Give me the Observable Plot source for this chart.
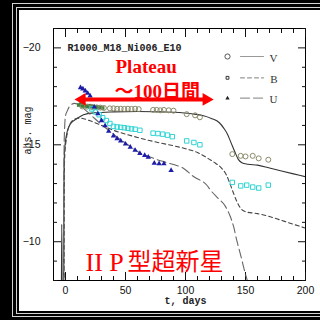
<!DOCTYPE html>
<html>
<head>
<meta charset="utf-8">
<script src="https://cdn.jsdelivr.net/npm/d3@7"></script>
<script src="https://cdn.jsdelivr.net/npm/@observablehq/plot@0.6"></script>
<style>
  html, body { margin: 0; padding: 0; background: #000; }
  #wrap { position: relative; width: 320px; height: 320px; overflow: hidden; background: #000; }
  .ln { position: absolute; border: 1px solid #d4d4d4; }
  #panel { position: absolute; left: 19px; top: 10px; right: 0; bottom: 9px; background: #fff; }
  #chart { position: absolute; left: 0; top: 0; }
</style>
</head>
<body>
<div id="wrap">
  <div class="ln" style="left:12px;top:3px;right:-10px;bottom:3px"></div>
  <div class="ln" style="left:16px;top:7px;right:-10px;bottom:6px"></div>
  <div id="panel"></div>
  <div id="chart"></div>
</div>
<script>
// Model light curves (days after explosion, absolute magnitude)
const vModelDays = [-3.4, -3.1, -2.8, -1.5, -1.3, -1.1, -0.5, 0.5, 1.5, 4, 10, 15, 24, 40, 60, 80, 95, 105, 115, 122, 128, 132, 135, 138, 141, 144, 147, 152, 160, 170, 180, 190, 200];
const vModelMags = [-7.8, -10.9, -7.8, -7.8, -12.5, -14.2, -14.9, -15.4, -15.7, -16.07, -16.37, -16.55, -16.65, -16.7, -16.72, -16.7, -16.67, -16.6, -16.5, -16.35, -16.15, -15.85, -15.55, -15.1, -14.65, -14.25, -14.08, -14.0, -13.95, -13.8, -13.65, -13.5, -13.35];

const bModelDays = [-1.2, -1.0, -0.5, 0.5, 1.5, 4, 8, 12, 16, 20, 30, 40, 50, 60, 70, 80, 90, 100, 110, 120, 125, 130, 134, 137, 140, 143, 146, 150, 160, 170, 180, 190, 200];
const bModelMags = [-7.8, -13.5, -14.6, -15.2, -15.6, -16.1, -16.33, -16.38, -16.33, -16.25, -16.0, -15.75, -15.55, -15.38, -15.22, -15.08, -14.95, -14.8, -14.6, -14.25, -14.05, -13.8, -13.45, -13.0, -12.5, -12.05, -11.72, -11.55, -11.45, -11.3, -11.1, -10.9, -10.7];

const uModelDays = [-1.6, -1.4, -1.0, 0, 1.5, 3, 5, 7.5, 10, 15, 20, 25, 30, 35, 45, 55, 62, 70, 80, 90, 97, 107, 118, 121, 127, 133, 137, 140, 143, 146, 149, 152.5];
const uModelMags = [-7.8, -13.0, -15.4, -16.5, -16.75, -16.95, -17.08, -17.14, -17.1, -16.88, -16.6, -16.32, -16.05, -15.8, -15.3, -14.88, -14.58, -14.38, -14.16, -13.98, -13.83, -13.35, -12.9, -12.65, -12.25, -11.85, -11.35, -10.8, -10.0, -9.3, -8.55, -7.8];

// Observed photometry
const vDays = [14, 18, 22, 26, 29, 32, 37, 40, 43, 46, 49, 52, 55, 58, 61, 73, 76, 79, 82, 86, 90, 101, 108, 112, 139, 146, 150, 156, 161, 169];
const vMags = [-16.98, -16.97, -16.95, -16.93, -16.92, -16.9, -16.88, -16.88, -16.86, -16.86, -16.85, -16.86, -16.85, -16.86, -16.84, -16.8, -16.8, -16.78, -16.8, -16.78, -16.76, -16.58, -16.52, -16.42, -14.52, -14.43, -14.4, -14.43, -14.3, -14.23];

const vEarlyDays = [11, 12.5, 14, 15.5, 17, 18.5, 20, 21.5, 23, 25, 27, 29, 31];
const vEarlyMags = [-17.05, -17.1, -17.0, -17.05, -17.0, -16.98, -17.02, -16.97, -16.98, -16.95, -16.95, -16.92, -16.9];

const bDays = [22, 25, 28, 31, 34, 37, 40, 43, 46, 49, 52, 55, 58, 62, 73, 77, 81, 85, 89, 101, 107, 112, 139, 146, 151, 156, 161, 169];
const bMags = [-16.85, -16.7, -16.55, -16.4, -16.25, -16.1, -15.95, -15.92, -15.9, -15.88, -15.85, -15.82, -15.8, -15.75, -15.6, -15.58, -15.55, -15.5, -15.42, -15.2, -15.12, -15.0, -13.06, -12.88, -12.92, -12.82, -12.77, -12.92];

const uDays = [12.5, 14.5, 16.5, 18.5, 20.5, 24, 27, 30, 33, 36, 40, 43, 46, 50, 54, 58, 62, 66, 69, 74, 78, 82, 88];
const uMags = [-17.95, -17.88, -17.78, -17.66, -17.52, -16.95, -16.6, -16.25, -15.98, -15.7, -15.46, -15.32, -15.2, -15.04, -14.88, -14.72, -14.56, -14.45, -14.36, -14.05, -14.03, -14.02, -13.68];

// Axis ticks
const xMajor = [0, 50, 100, 150, 200];
const xMinor = d3.range(0, 201, 10).filter(d => d % 50 !== 0);
const yMajor = [-20, -15, -10];
const yMinor = d3.range(-21, -7).filter(d => d % 5 !== 0);

// Plateau annotation (days, magnitude level of the arrow)
const plateauSpan = [7.5, 123.5];
const arrowMag = -17.34;

const red = "#f00";
const fmt = d => (d < 0 ? "\u2212" : "") + Math.abs(d);
const seg = {draw(ctx, l) { ctx.moveTo(0, 0); ctx.lineTo(0, -l); }};

const legendRows = [
  {label: "V", symbol: "circle", dash: null, dy: 28, fill: "none", stroke: "#555", r: 2.6},
  {label: "B", symbol: "square", dash: "4,3", dy: 49.3, fill: "none", stroke: "#333", r: 1.6},
  {label: "U", symbol: "triangle", dash: "9,4", dy: 69.7, fill: "#222", stroke: "none", r: 1.6}
];

const legendMarks = legendRows.flatMap(row => [
  Plot.dot([row.label], {frameAnchor: "top-right", dx: -78, dy: row.dy, symbol: row.symbol, r: row.r, fill: row.fill, stroke: row.stroke, strokeWidth: 1}),
  Plot.vector([row.label], {frameAnchor: "top-right", dx: -65, dy: row.dy, length: 23, rotate: 90, anchor: "start", shape: seg, stroke: "#999", strokeWidth: 1.2, strokeDasharray: row.dash}),
  Plot.text([row.label], {frameAnchor: "top-right", dx: -28, dy: row.dy - 2.7, fontFamily: "Liberation Serif", fontSize: 11, fill: "#333"})
]);

const chart = Plot.plot({
  width: 320,
  height: 320,
  marginLeft: 53,
  marginRight: 15,
  marginTop: 28,
  marginBottom: 40,
  style: {background: "transparent", fontFamily: "Liberation Sans", fontSize: "10.5px", color: "#111", overflow: "visible"},
  x: {domain: [-10, 200], label: null},
  y: {domain: [-8, -21], label: null},
  marks: [
    Plot.frame({stroke: "#000", strokeWidth: 1}),
    // inward ticks on all four sides
    Plot.axisY(yMinor, {anchor: "left", tickSize: -4, fill: "none", label: null}),
    Plot.axisY(yMajor, {anchor: "left", tickSize: -8, fill: "none", label: null}),
    Plot.axisY(yMinor, {anchor: "right", tickSize: -4, fill: "none", label: null}),
    Plot.axisY(yMajor, {anchor: "right", tickSize: -8, fill: "none", label: null}),
    Plot.axisX(xMinor, {anchor: "bottom", tickSize: -4, fill: "none", label: null}),
    Plot.axisX(xMajor, {anchor: "bottom", tickSize: -8, fill: "none", label: null}),
    Plot.axisX(xMinor, {anchor: "top", tickSize: -4, fill: "none", label: null}),
    Plot.axisX(xMajor, {anchor: "top", tickSize: -8, fill: "none", label: null}),
    Plot.axisY(yMajor, {anchor: "left", tickSize: 0, tickPadding: 13, tickFormat: fmt, label: null}),
    Plot.axisX(xMajor, {anchor: "bottom", tickSize: 0, tickPadding: 6, label: null}),
    Plot.text(["abs. mag"], {frameAnchor: "left", dx: -26, rotate: -90, fontFamily: "Liberation Mono", fontSize: 10, fill: "#222"}),
    Plot.text(["t, days"], {frameAnchor: "bottom", dx: 6, dy: 23, fontFamily: "Liberation Mono", fontWeight: "bold", fontSize: 10, fill: "#222"}),
    Plot.text(["R1000_M18_Ni006_E10"], {frameAnchor: "top-left", dx: 14, dy: 15, textAnchor: "start", fontFamily: "Liberation Mono", fontWeight: "bold", fontSize: 10, fill: "#222"}),

    // model curves
    Plot.line(vModelDays, {x: vModelDays, y: vModelMags, curve: "monotone-x", stroke: "#333", strokeWidth: 1.1, clip: true}),
    Plot.line(bModelDays, {x: bModelDays, y: bModelMags, curve: "monotone-x", stroke: "#444", strokeWidth: 1.1, strokeDasharray: "4,3", clip: true}),
    Plot.line(uModelDays, {x: uModelDays, y: uModelMags, curve: "monotone-x", stroke: "#666", strokeWidth: 1.1, strokeDasharray: "9,4", clip: true}),

    // observations
    Plot.dot(vEarlyDays, {x: vEarlyDays, y: vEarlyMags, symbol: "square", r: 2, fill: "#3f7f3a"}),
    Plot.dot(vDays, {x: vDays, y: vMags, symbol: "circle", r: 2.5, fill: "none", stroke: "#8a8a6a", strokeWidth: 1}),
    Plot.dot(bDays, {x: bDays, y: bMags, symbol: "square", r: 2.5, fill: "none", stroke: "#2fd4d4", strokeWidth: 1}),
    Plot.dot(uDays, {x: uDays, y: uMags, symbol: "triangle", r: 2, fill: "#1c1ca8"}),

    ...legendMarks,

    // plateau annotation
    Plot.arrow([0], {x1: plateauSpan[0], x2: plateauSpan[1], y1: arrowMag, y2: arrowMag, headLength: 0, insetStart: 6, insetEnd: 6, stroke: red, strokeWidth: 4}),
    Plot.dot([plateauSpan[0]], {x: d => d, y: arrowMag, symbol: "triangle", rotate: -90, r: 4.76, fill: red, dx: 7.4}),
    Plot.dot([plateauSpan[1]], {x: d => d, y: arrowMag, symbol: "triangle", rotate: 90, r: 4.76, fill: red, dx: -7.4}),
    Plot.text(["Plateau"], {frameAnchor: "top-left", dx: 62, dy: 31, textAnchor: "start", fontFamily: "Liberation Serif", fontWeight: "bold", fontSize: 19, fill: red}),
    Plot.text(["～100日間"], {frameAnchor: "top-left", dx: 61, dy: 56, textAnchor: "start", fontFamily: "Liberation Serif, Noto Sans CJK JP", fontWeight: "bold", fontSize: 19, fill: red}),
    Plot.text(["II P"], {frameAnchor: "top-left", dx: 32, dy: 224, textAnchor: "start", fontFamily: "Liberation Serif", fontSize: 26, fill: red, style: "letter-spacing:-1.5px"}),
    Plot.text(["型超新星"], {frameAnchor: "top-left", dx: 74, dy: 224, textAnchor: "start", fontFamily: "Noto Sans CJK JP", fontSize: 24, fill: red})
  ]
});

document.getElementById("chart").appendChild(chart);
</script>
</body>
</html>
